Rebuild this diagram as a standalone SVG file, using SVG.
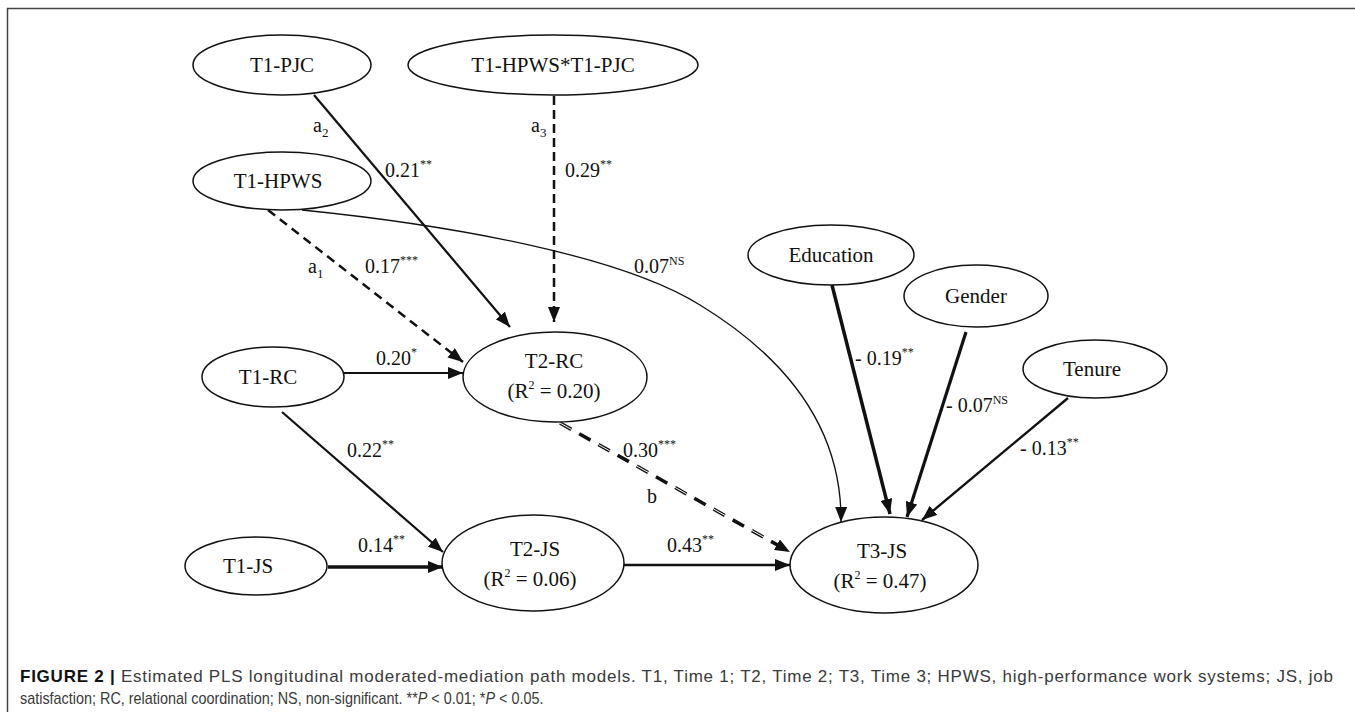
<svg xmlns="http://www.w3.org/2000/svg" width="1355" height="712" viewBox="0 0 1355 712">
<style>
.node ellipse{fill:#fff;stroke:#111;stroke-width:1.5}
.nt{font-family:"Liberation Serif","Times New Roman",serif;font-size:21px;fill:#111;text-anchor:middle}
.lb{font-family:"Liberation Serif","Times New Roman",serif;font-size:20px;fill:#111}
.sup{font-size:12px}
.cap{font-family:"Liberation Sans",Arial,sans-serif;font-size:16px;fill:#3a3a3a}
.e{fill:none;stroke:#111}
</style>
<defs>
<marker id="ah" markerUnits="userSpaceOnUse" markerWidth="15" markerHeight="12" refX="15" refY="6" orient="auto">
<path d="M0,0 L15,6 L0,12 z" fill="#111"/>
</marker>
</defs>
<rect width="1355" height="712" fill="#fff"/>
<path d="M7.5,712 V8.5 H1355" fill="none" stroke="#444" stroke-width="1.5"/>

<g id="connectors">
<line class="e" x1="314" y1="95" x2="510" y2="327" stroke-width="2.2" marker-end="url(#ah)"/>
<line class="e" x1="554" y1="96" x2="554" y2="322" stroke-width="2.5" stroke-dasharray="9 5" marker-end="url(#ah)"/>
<line class="e" x1="268" y1="210" x2="463" y2="362" stroke-width="2.5" stroke-dasharray="9 6" marker-end="url(#ah)"/>
<path class="e" d="M302,210 C450,225 620,255 700,305 C790,360 842,430 841,522" stroke-width="1.3" marker-end="url(#ah)"/>
<line class="e" x1="344" y1="373" x2="463" y2="373" stroke-width="2.2" marker-end="url(#ah)"/>
<line class="e" x1="282" y1="412" x2="443" y2="552" stroke-width="2.2" marker-end="url(#ah)"/>
<line class="e" x1="328" y1="567" x2="443" y2="567" stroke-width="3.5" marker-end="url(#ah)"/>
<line class="e" x1="624" y1="565" x2="790" y2="565" stroke-width="2.4" marker-end="url(#ah)"/>
<line class="e" x1="560" y1="423" x2="790" y2="552" stroke-width="3.5" stroke-dasharray="13 9" stroke="#222" marker-end="url(#ah)"/>
<line x1="560" y1="423" x2="776" y2="544" stroke="#fff" stroke-width="1" stroke-dasharray="13 31"/>
<line class="e" x1="832" y1="285" x2="890" y2="514" stroke-width="3.5" marker-end="url(#ah)"/>
<line class="e" x1="966" y1="332" x2="907" y2="517" stroke-width="3.2" marker-end="url(#ah)"/>
<line class="e" x1="1068" y1="398" x2="922" y2="520" stroke-width="2.4" marker-end="url(#ah)"/>
</g>

<g id="n-t1pjc" class="node"><ellipse cx="282" cy="65" rx="89" ry="30"/><text class="nt" x="282" y="72">T1-PJC</text></g>
<g id="n-interaction" class="node"><ellipse cx="553" cy="65" rx="145" ry="30"/><text class="nt" x="553" y="72">T1-HPWS*T1-PJC</text></g>
<g id="n-t1hpws" class="node"><ellipse cx="282" cy="181" rx="89" ry="29"/><text class="nt" x="278" y="188">T1-HPWS</text></g>
<g id="n-t1rc" class="node"><ellipse cx="273" cy="377" rx="71" ry="30"/><text class="nt" x="268" y="384">T1-RC</text></g>
<g id="n-t2rc" class="node"><ellipse cx="555" cy="377" rx="92" ry="45"/><text class="nt" x="554" y="368">T2-RC</text><text class="nt" x="554" y="398">(R<tspan class="sup" dy="-9">2</tspan><tspan dy="9"> = 0.20)</tspan></text></g>
<g id="n-t1js" class="node"><ellipse cx="256" cy="566" rx="71" ry="29"/><text class="nt" x="248" y="573">T1-JS</text></g>
<g id="n-t2js" class="node"><ellipse cx="533" cy="563" rx="91" ry="48"/><text class="nt" x="535" y="556">T2-JS</text><text class="nt" x="530" y="586">(R<tspan class="sup" dy="-9">2</tspan><tspan dy="9"> = 0.06)</tspan></text></g>
<g id="n-t3js" class="node"><ellipse cx="884" cy="565" rx="94" ry="48"/><text class="nt" x="882" y="558">T3-JS</text><text class="nt" x="880" y="588">(R<tspan class="sup" dy="-9">2</tspan><tspan dy="9"> = 0.47)</tspan></text></g>
<g id="n-education" class="node"><ellipse cx="831" cy="255" rx="83" ry="30"/><text class="nt" x="831" y="262">Education</text></g>
<g id="n-gender" class="node"><ellipse cx="976" cy="296" rx="72" ry="31"/><text class="nt" x="976" y="303">Gender</text></g>
<g id="n-tenure" class="node"><ellipse cx="1095" cy="369" rx="72" ry="29"/><text class="nt" x="1092" y="376">Tenure</text></g>

<g id="labels">
<text class="lb" x="313" y="132">a<tspan font-size="13" dy="5">2</tspan></text>
<text class="lb" x="385" y="177">0.21<tspan class="sup" dy="-9">**</tspan></text>
<text class="lb" x="531" y="132">a<tspan font-size="13" dy="5">3</tspan></text>
<text class="lb" x="565" y="177">0.29<tspan class="sup" dy="-9">**</tspan></text>
<text class="lb" x="308" y="273">a<tspan font-size="13" dy="5">1</tspan></text>
<text class="lb" x="365" y="273">0.17<tspan class="sup" dy="-9">***</tspan></text>
<text class="lb" x="634" y="273">0.07<tspan class="sup" dy="-8">NS</tspan></text>
<text class="lb" x="376" y="365">0.20<tspan class="sup" dy="-9">*</tspan></text>
<text class="lb" x="347" y="457">0.22<tspan class="sup" dy="-9">**</tspan></text>
<text class="lb" x="358" y="552">0.14<tspan class="sup" dy="-9">**</tspan></text>
<text class="lb" x="623" y="457">0.30<tspan class="sup" dy="-9">***</tspan></text>
<text class="lb" x="647" y="503">b</text>
<text class="lb" x="667" y="552">0.43<tspan class="sup" dy="-9">**</tspan></text>
<text class="lb" x="855" y="365">- 0.19<tspan class="sup" dy="-9">**</tspan></text>
<text class="lb" x="946" y="412">- 0.07<tspan class="sup" dy="-8">NS</tspan></text>
<text class="lb" x="1020" y="455">- 0.13<tspan class="sup" dy="-9">**</tspan></text>
</g>

<g id="caption">
<text class="cap" x="20" y="682" style="font-size:17px" textLength="1313" lengthAdjust="spacing"><tspan font-weight="bold" fill="#111">FIGURE 2 |</tspan> Estimated PLS longitudinal moderated-mediation path models. T1, Time 1; T2, Time 2; T3, Time 3; HPWS, high-performance work systems; JS, job</text>
<text class="cap" x="0" y="704" transform="translate(20,0) scale(0.9,1)">satisfaction; RC, relational coordination; NS, non-significant. **<tspan font-style="italic">P</tspan> &lt; 0.01; *<tspan font-style="italic">P</tspan> &lt; 0.05.</text>
</g>
</svg>
